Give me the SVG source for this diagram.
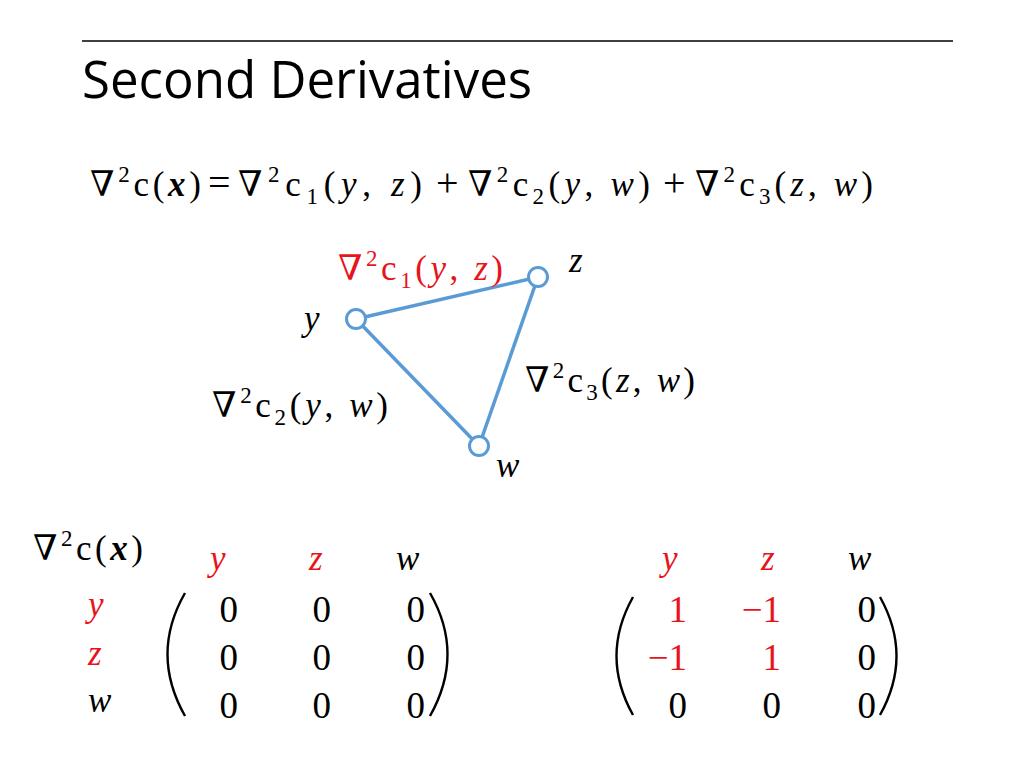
<svg xmlns="http://www.w3.org/2000/svg" width="1024" height="768" viewBox="0 0 1024 768">
<style>
.m{font-family:"Liberation Serif","DejaVu Serif",serif;font-size:35px;fill:#000}
.d{font-size:37px}
.r{fill:#e8141b}
.i{font-style:italic}
.b{font-style:italic;font-weight:bold}
.t{font-family:"Open Sans","Liberation Sans",sans-serif;font-size:51px;fill:#000}
.e{stroke:#5b9bd5;stroke-width:3.5;fill:none}
.n{stroke:#5b9bd5;stroke-width:3;fill:#fff}
.p{stroke:#000;stroke-width:2.4;fill:none}
</style>
<rect width="1024" height="768" fill="#fff"/>
<line x1="82" y1="41" x2="953" y2="41" stroke="#000" stroke-width="1.5"/>
<text class="t" x="82" y="98">Second Derivatives</text>

<g id="equation" class="m">
<text x="90" y="196" textLength="111" lengthAdjust="spacing">∇<tspan font-size="23" dy="-14">2</tspan><tspan dy="14">c(</tspan><tspan class="b">x</tspan>)</text>
<text x="208" y="196" font-size="40">=</text>
<text x="238" y="196" textLength="184" lengthAdjust="spacing">∇<tspan font-size="23" dy="-14">2</tspan><tspan dy="14">c</tspan><tspan font-size="23" dy="8">1</tspan><tspan dy="-8">(</tspan><tspan class="i">y</tspan>, <tspan class="i">z</tspan>)</text>
<text x="436" y="196" font-size="40">+</text>
<text x="468" y="196" textLength="182" lengthAdjust="spacing">∇<tspan font-size="23" dy="-14">2</tspan><tspan dy="14">c</tspan><tspan font-size="23" dy="8">2</tspan><tspan dy="-8">(</tspan><tspan class="i">y</tspan>, <tspan class="i">w</tspan>)</text>
<text x="663" y="196" font-size="40">+</text>
<text x="695" y="196" textLength="178" lengthAdjust="spacing">∇<tspan font-size="23" dy="-14">2</tspan><tspan dy="14">c</tspan><tspan font-size="23" dy="8">3</tspan><tspan dy="-8">(</tspan><tspan class="i">z</tspan>, <tspan class="i">w</tspan>)</text>
</g>

<g id="connectors">
<line class="e" x1="356" y1="319" x2="538" y2="277"/>
<line class="e" x1="356" y1="319" x2="479" y2="446"/>
<line class="e" x1="538" y1="277" x2="479" y2="446"/>
</g>
<g id="node-y"><circle class="n" cx="356" cy="319" r="9.5"/><text class="m i" x="304" y="330">y</text></g>
<g id="node-z"><circle class="n" cx="538" cy="277" r="9.5"/><text class="m i" x="569" y="272">z</text></g>
<g id="node-w"><circle class="n" cx="479" cy="446" r="9.5"/><text class="m i" x="496" y="477">w</text></g>

<g id="edge-labels" class="m">
<text class="r" x="338" y="280" textLength="165" lengthAdjust="spacing">∇<tspan font-size="23" dy="-14">2</tspan><tspan dy="14">c</tspan><tspan font-size="23" dy="8">1</tspan><tspan dy="-8">(</tspan><tspan class="i">y</tspan>, <tspan class="i">z</tspan>)</text>
<text x="525" y="392" textLength="170" lengthAdjust="spacing">∇<tspan font-size="23" dy="-14">2</tspan><tspan dy="14">c</tspan><tspan font-size="23" dy="8">3</tspan><tspan dy="-8">(</tspan><tspan class="i">z</tspan>, <tspan class="i">w</tspan>)</text>
<text x="212" y="417" textLength="176" lengthAdjust="spacing">∇<tspan font-size="23" dy="-14">2</tspan><tspan dy="14">c</tspan><tspan font-size="23" dy="8">2</tspan><tspan dy="-8">(</tspan><tspan class="i">y</tspan>, <tspan class="i">w</tspan>)</text>
</g>

<g id="matrix-left" class="m">
<text x="33" y="560" textLength="110" lengthAdjust="spacing">∇<tspan font-size="23" dy="-14">2</tspan><tspan dy="14">c(</tspan><tspan class="b">x</tspan>)</text>
<text class="i r" x="210" y="570">y</text>
<text class="i r" x="309" y="570">z</text>
<text class="i" x="396" y="570">w</text>
<text class="i r" x="88" y="616">y</text>
<text class="i r" x="88" y="665">z</text>
<text class="i" x="88" y="712">w</text>
<g text-anchor="end" class="d">
<text x="238" y="622">0</text><text x="331" y="622">0</text><text x="425" y="622">0</text>
<text x="238" y="670">0</text><text x="331" y="670">0</text><text x="425" y="670">0</text>
<text x="238" y="718">0</text><text x="331" y="718">0</text><text x="425" y="718">0</text>
</g>
<path class="p" d="M185,593 Q150,654 185,716"/>
<path class="p" d="M430,593 Q465,654 430,716"/>
</g>

<g id="matrix-right" class="m">
<text class="i r" x="662" y="570">y</text>
<text class="i r" x="761" y="570">z</text>
<text class="i" x="848" y="570">w</text>
<g text-anchor="end" class="d">
<text class="r" x="687" y="622">1</text><text class="r" x="781" y="622">−1</text><text x="876" y="622">0</text>
<text class="r" x="687" y="670">−1</text><text class="r" x="781" y="670">1</text><text x="876" y="670">0</text>
<text x="687" y="718">0</text><text x="781" y="718">0</text><text x="876" y="718">0</text>
</g>
<path class="p" d="M633,597 Q600,656 633,715"/>
<path class="p" d="M880,597 Q913,656 880,715"/>
</g>
</svg>
